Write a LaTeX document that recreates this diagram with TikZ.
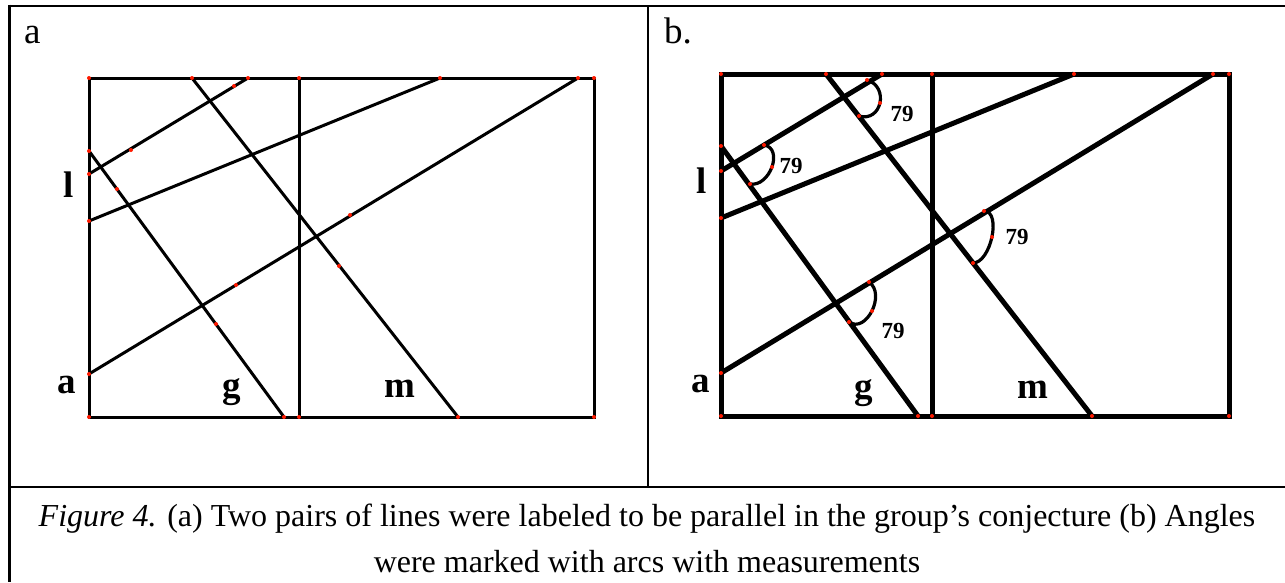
\documentclass[tikz,border=0pt]{standalone}
\usepackage{fontspec}
\setmainfont{Liberation Serif}
\usetikzlibrary{calc}
\definecolor{sketch-red}{HTML}{FF1A00}

\begin{document}
\begin{tikzpicture}[x=1pt, y=-1pt,
    rule/.style={line width=2.7pt},
    linea/.style={line width=3pt},
    lineb/.style={line width=5pt},
    arcline/.style={line width=3.2pt},
    lbl/.style={font=\fontsize{37}{44}\selectfont\bfseries, anchor=base, inner sep=0pt},
    panel/.style={font=\fontsize{37}{44}\selectfont, anchor=base west, inner sep=0pt},
    deg/.style={font=\fontsize{23}{26}\selectfont\bfseries, inner sep=0pt},
]
    \useasboundingbox (0,0) rectangle (1285,582);

    % table rules
    \draw[rule] (9.5,6) -- (1285,6);
    \draw[rule] (9.5,4.65) -- (9.5,582);
    \draw[rule] (648,6) -- (648,487);
    \draw[rule] (9.5,487) -- (1285,487);

    % panel a
    \coordinate (a-nw) at (89,78);
    \coordinate (a-se) at (594,417);
    \coordinate (a-vt) at (299,78);
    \coordinate (a-vb) at (299,417);
    \coordinate (a-l1) at (89,174);
    \coordinate (a-l1t) at (248,78);
    \coordinate (a-l2) at (89,221);
    \coordinate (a-l2t) at (440,78);
    \coordinate (a-l3) at (89,374);
    \coordinate (a-l3t) at (578,78);
    \coordinate (a-g) at (89,151);
    \coordinate (a-gb) at (284,417);
    \coordinate (a-m) at (192,78);
    \coordinate (a-mb) at (458,417);

    \draw[linea] (a-nw) rectangle (a-se);
    \draw[linea] (a-vt) -- (a-vb);
    \draw[linea] (a-l1) -- (a-l1t);
    \draw[linea] (a-l2) -- (a-l2t);
    \draw[linea] (a-l3) -- (a-l3t);
    \draw[linea] (a-g) -- (a-gb);
    \draw[linea] (a-m) -- (a-mb);

    \node[panel] (title-a) at (24,43) {a};
    \node[lbl] (a-lab-l) at (69,197) {l};
    \node[lbl] (a-lab-a) at (67,393) {a};
    \node[lbl] (a-lab-g) at (232,397) {g};
    \node[lbl] (a-lab-m) at (400,397) {m};

    % panel b
    \coordinate (b-nw) at (721,74);
    \coordinate (b-se) at (1229,416);
    \coordinate (b-vt) at (932,74);
    \coordinate (b-vb) at (932,416);
    \coordinate (b-l1) at (721,171);
    \coordinate (b-l1t) at (882,74);
    \coordinate (b-l2) at (721,218);
    \coordinate (b-l2t) at (1074,74);
    \coordinate (b-l3) at (721,373);
    \coordinate (b-l3t) at (1213,74);
    \coordinate (b-g) at (721,146);
    \coordinate (b-gb) at (918,416);
    \coordinate (b-m) at (826,74);
    \coordinate (b-mb) at (1092,416);

    \draw[lineb] (b-nw) rectangle (b-se);
    \draw[lineb] (b-vt) -- (b-vb);
    \draw[lineb] (b-l1) -- (b-l1t);
    \draw[lineb] (b-l2) -- (b-l2t);
    \draw[lineb] (b-l3) -- (b-l3t);
    \draw[lineb] (b-g) -- (b-gb);
    \draw[lineb] (b-m) -- (b-mb);

    % angle arcs
    \coordinate (arc1s) at (867,80);  \coordinate (arc1m) at (880,103); \coordinate (arc1e) at (859,116);
    \coordinate (arc2s) at (764,145); \coordinate (arc2m) at (772,167); \coordinate (arc2e) at (750,184);
    \coordinate (arc3s) at (984,211); \coordinate (arc3m) at (992,237); \coordinate (arc3e) at (973,263);
    \coordinate (arc4s) at (869,282); \coordinate (arc4m) at (872,311); \coordinate (arc4e) at (849,322);
    \foreach \i in {1,...,4}
        \draw[arcline] (arc\i s) .. controls ($0.3333*(arc\i s)+1.3333*(arc\i m)-0.6667*(arc\i e)$)
            and ($0.3333*(arc\i e)+1.3333*(arc\i m)-0.6667*(arc\i s)$) .. (arc\i e);

    \node[deg] (deg1) at (902,114) {79};
    \node[deg] (deg2) at (791,166) {79};
    \node[deg] (deg3) at (1017,237) {79};
    \node[deg] (deg4) at (893,331) {79};

    \node[panel] (title-b) at (664,43) {b.};
    \node[lbl] (b-lab-l) at (702,193) {l};
    \node[lbl] (b-lab-a) at (701,392) {a};
    \node[lbl] (b-lab-g) at (864,398) {g};
    \node[lbl] (b-lab-m) at (1033,398) {m};

    % red points
    \foreach \x/\y in {89/78, 192/78, 248/78, 299/78, 440/78, 578/78, 594/78,
            89/151, 89/174, 89/221, 89/374, 89/417, 284/417, 299/417, 458/417, 594/417,
            234/86, 131/150, 117/189, 216/324, 350/215, 236/285, 339/266,
            721/74, 826/74, 882/74, 932/74, 1074/74, 1213/74, 1229/74,
            721/146, 721/171, 721/218, 721/373, 721/416, 918/416, 932/416, 1092/416, 1229/416}
        \fill[sketch-red] (\x,\y) circle (2);
    \foreach \i in {1,...,4}
        \foreach \p in {s,m,e}
            \fill[sketch-red] (arc\i\p) circle (2);

    % caption
    \node[font=\fontsize{32}{46}\selectfont, align=center, anchor=base] (caption) at (647,572)
        {\textit{Figure 4.} (a) Two pairs of lines were labeled to be parallel in the group’s conjecture (b) Angles\\
         were marked with arcs with measurements};
\end{tikzpicture}
\end{document}
